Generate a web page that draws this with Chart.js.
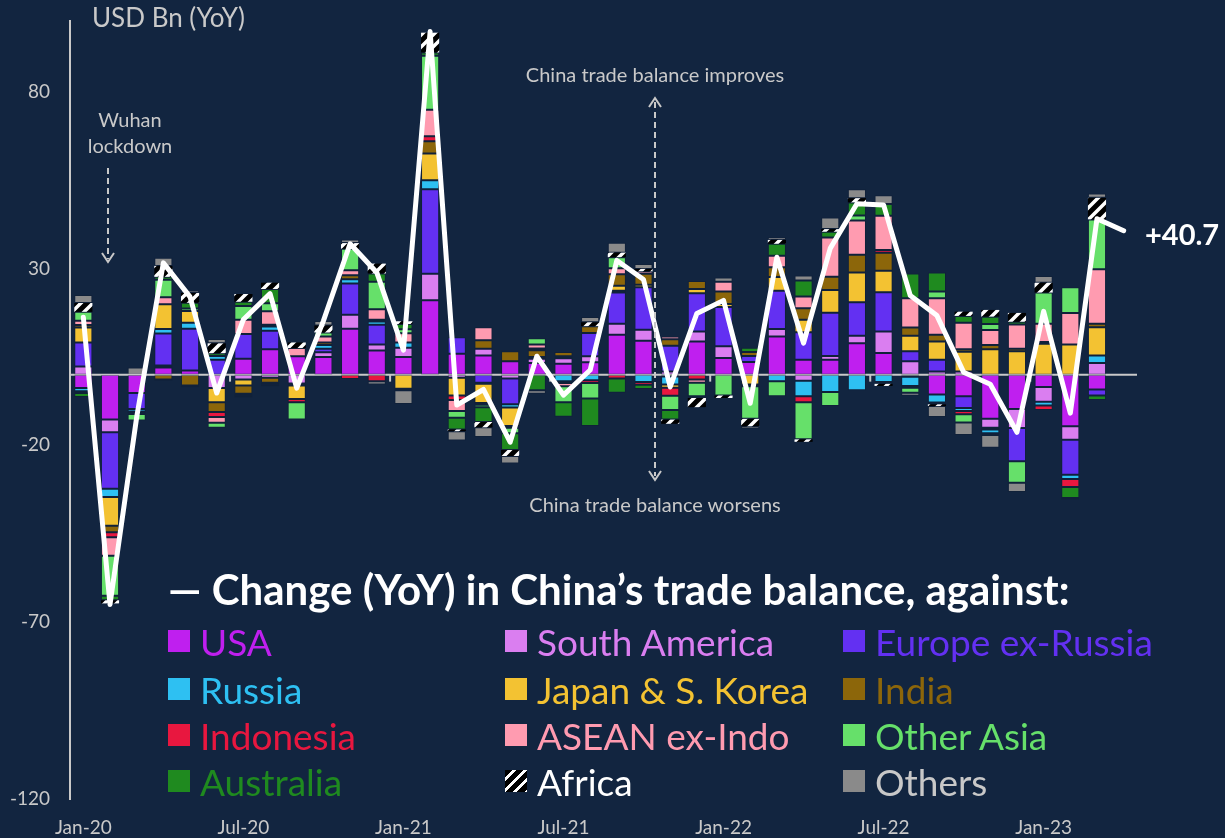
<!DOCTYPE html>
<html><head><meta charset="utf-8">
<script src="https://cdn.jsdelivr.net/npm/chart.js@4.4.1/dist/chart.umd.min.js"></script>
<style>
html,body{margin:0;padding:0;background:#122540;}
#wrap{position:relative;width:1225px;height:838px;overflow:hidden;background:#122540;font-family:Lato,"Open Sans",sans-serif;}
#c{position:absolute;left:0;top:0;}
.t{position:absolute;white-space:nowrap;color:#c9c9c9;line-height:1;}
.lg{position:absolute;display:flex;align-items:center;height:44px;white-space:nowrap;font-size:37px;}
.sq{width:22px;height:22px;margin-right:10px;flex:none;}
</style></head><body>
<div id="wrap">
<canvas id="c" width="1225" height="838"></canvas>
<div class="t" style="left:92px;top:4px;font-size:26px;">USD Bn (YoY)</div>
<div class="t" style="left:75px;top:106px;width:110px;text-align:center;font-size:20px;line-height:26px;">Wuhan<br>lockdown</div>
<div class="t" style="left:455px;top:64px;width:400px;text-align:center;font-size:20px;">China trade balance improves</div>
<div class="t" style="left:455px;top:494px;width:400px;text-align:center;font-size:20px;">China trade balance worsens</div>
<div class="t" style="left:1145px;top:219px;font-size:29px;font-weight:bold;color:#fff;">+40.7</div>
<div class="t" style="left:168px;top:568px;font-size:42px;font-weight:bold;color:#fff;">— Change (YoY) in China’s trade balance, against:</div>
<div id="legend"></div>
</div>
<script>
// ---------- data ----------
const months = ['Jan-20','Feb-20','Mar-20','Apr-20','May-20','Jun-20','Jul-20','Aug-20','Sep-20','Oct-20','Nov-20','Dec-20',
 'Jan-21','Feb-21','Mar-21','Apr-21','May-21','Jun-21','Jul-21','Aug-21','Sep-21','Oct-21','Nov-21','Dec-21',
 'Jan-22','Feb-22','Mar-22','Apr-22','May-22','Jun-22','Jul-22','Aug-22','Sep-22','Oct-22','Nov-22','Dec-22',
 'Jan-23','Feb-23','Mar-23','Apr-23'];
const yTicks = [-120,-70,-20,30,80];

const usa     = [-3.8,-12.7,-5.2,2.0,1.2,0,4.5,7.2,5.2,5.0,13.0,6.8, 5.0,21.0,5.9,5.4,3.8,3.3,3.1,3.5,11.3,9.6,-0.5,9.4, 4.7,3.6,10.8,4.2,4.2,8.9,6.1,-0.6,-5.6,-6.1,-12.5,-9.7, -3.5,-14.6,-4.2,null];
const southAm = [2.3,-3.6,0,0.6,0,-3.8,-1.4,-0.9,-2.5,1.3,3.9,1.7, 2.6,7.5,-0.9,1.9,-1.1,1.2,1.5,1.7,3.1,3.1,0.9,2.8, 3.3,0,2.1,-1.7,1.1,2.1,6.1,3.8,0.9,0.9,-2.5,-5.4, -4.2,-3.8,3.3,null];
const europe  = [6.8,-16.0,-4.5,9.0,11.8,4.2,7.0,5.2,-0.6,1.0,8.9,5.6, 0,23.9,4.7,-2.3,-7.3,0.5,0,6.6,8.8,12.0,7.3,10.8, 11.1,1.7,10.8,7.8,12.2,9.5,11.1,2.8,3.3,-3.3,-0.5,-9.4, 0,-9.9,-1.7,null];
const russia  = [-0.9,-2.3,-0.7,1.3,1.7,1.1,0,1.2,0,1.1,1.2,0.9, 1.5,2.6,0,-0.3,-0.9,0,-1.9,-1.6,0.5,-2.1,-2.3,0, 0,0,-1.9,-4.4,-4.9,-4.4,-2.1,-2.6,-2.3,-0.9,-1.1,0, -1.0,-1.2,2.1,null];
const japanKr = [4.2,-8.1,0,7.0,3.3,-4.0,-1.7,0.5,-3.8,0,0,0, -4.0,7.5,-5.0,-5.4,-5.2,0,0.6,0,1.4,0.7,-0.9,1.2, 0.9,-2.8,3.9,3.5,6.4,8.4,6.1,4.4,5.2,5.6,7.2,6.6, 8.7,8.5,8.0,null];
const india   = [0.75,-1.9,-0.4,-1.4,-3.1,-2.8,-2.3,-1.4,0,0.7,1.1,0.5, 0,3.5,0,2.4,2.8,1.9,1.2,1.9,3.3,3.1,1.8,2.3, 3.5,1.1,2.8,3.3,3.8,5.0,5.1,2.3,1.9,0.7,1.2,0.7, 0.5,0,1.0,null];
const indonesia=[-0.5,-1.4,-0.3,-0.3,-0.5,-1.4,-0.5,-0.5,-0.9,0,-1.2,-1.9, -0.4,1.4,-1.3,-0.5,0.2,0.5,-0.5,-0.75,-1.1,-0.75,-2.3,-1.4, 0,0,0,-1.7,0,0,0.75,-0.5,-0.5,-0.9,-0.5,0, -1.3,-2.3,0,null];
const asean   = [1.2,-5.2,0,2.0,0,-1.6,4.0,3.8,2.3,1.7,1.4,3.0, 2.6,7.5,-3.1,3.7,-0.5,1.1,-0.9,0,1.7,0.7,0.75,-0.9, 2.8,-0.5,3.2,3.3,11.1,9.7,9.7,8.3,10.3,7.5,4.2,6.9, 5.2,8.9,15.4,null];
const otherAs = [2.5,-11.3,-1.9,4.9,0.7,-1.4,3.9,2.3,-4.9,1.1,6.1,7.8, 1.1,15.3,-1.9,-0.7,-1.6,1.8,-4.5,-4.4,3.1,0,-4.0,-3.8, -5.9,-9.2,-4.2,-10.5,-4.0,1.4,-0.5,-1.4,1.9,-2.3,1.7,-6.1, 8.8,7.3,14.1,null];
const australia=[-1.1,-1.3,0,0.85,1.6,0.75,1.2,4.0,0,0,0,2.3, 1.5,0.9,-3.3,-4.2,-4.7,-4.4,-4.1,-7.8,-4.0,-1.2,-2.7,-0.5, 0,1.2,3.4,4.5,1.6,3.7,3.3,7.0,5.4,1.9,2.1,0.75, 0,-3.1,-1.3,null];
const africa  = [2.5,-0.9,0,3.1,2.8,2.8,2.2,1.8,1.6,2.0,1.6,2.8, 0.8,5.6,-0.5,-1.5,-1.7,0,0,1.1,1.3,0.7,-1.2,-2.6, -0.7,-2.1,1.1,-0.7,0.75,1.2,-0.6,0,-0.5,1.2,1.9,2.5, 2.8,0,6.1,null];
const others  = [2.3,0,2.0,2.3,0.7,1.2,-0.6,-0.5,0,1.3,1.0,-0.9, -3.9,0,-2.6,-2.7,-2.1,-1.0,0,1.5,2.8,1.4,0,0, 1.2,-0.7,0.75,1.4,3.3,2.5,2.5,-0.9,-3.1,-3.6,-3.6,-2.6, 1.9,-0.5,1.2,null];
const totalChange = [16.2,-65,-12,31.6,22,-5.2,15.6,22.9,-3.8,15.2,37,28.9, 6.9,97,-8.6,-4.2,-19.1,5.2,-5.8,1.3,32.3,26.9,-3.5,17.3, 21,-8.1,33.2,8.9,35.7,48.3,48,22.4,16.7,0.7,-2.7,-16.3, 17.9,-10.9,44.1,40.7];

const seriesNames = ['USA','South America','Europe ex-Russia','Russia','Japan & S. Korea','India','Indonesia','ASEAN ex-Indo','Other Asia','Australia','Africa','Others'];
// ---------- styles ----------
const colors = ['#BF1FEF','#DA7EF0','#6330F2','#2EC0F2','#F3C232','#8C660A','#E8173F','#FF9BB0','#66E06A','#1F8A1F','AFRICA','#8A8A8A'];
const labelColors = ['#BF1FEF','#DA7EF0','#6330F2','#2EC0F2','#F3C232','#8C660A','#E8173F','#FF9BB0','#66E06A','#1F8A1F','#FFFFFF','#C8C8C8'];
const seriesData = [usa,southAm,europe,russia,japanKr,india,indonesia,asean,otherAs,australia,africa,others];

function stripePattern(){
  const s=12, p=document.createElement('canvas'); p.width=p.height=s;
  const g=p.getContext('2d'); g.fillStyle='#000'; g.fillRect(0,0,s,s);
  g.strokeStyle='#fff'; g.lineWidth=3.5;
  g.beginPath();
  g.moveTo(-2,s+2); g.lineTo(s+2,-2);
  g.moveTo(-s/2-2,s/2+2); g.lineTo(s/2+2,-s/2-2);
  g.moveTo(s/2-2,s*1.5+2); g.lineTo(s*1.5+2,s/2-2);
  g.stroke();
  return g.createPattern(p,'repeat');
}
const ctx=document.getElementById('c').getContext('2d');
const africaPat = stripePattern();

const datasets = seriesData.map((d,i)=>({
  type:'bar', label:seriesNames[i], data:d, stack:'bars', order:1,
  backgroundColor: colors[i]==='AFRICA'?africaPat:colors[i],
  borderWidth: colors[i]==='AFRICA'?0:1, borderColor:'rgba(15,25,45,0.35)', borderSkipped:false,
  barPercentage:0.68, categoryPercentage:1
}));
datasets.push({type:'line', label:'Change (YoY)', data:totalChange, stack:'line', order:0,
  borderColor:'#ffffff', borderWidth:5, pointRadius:0, tension:0, borderJoinStyle:'round', borderCapStyle:'round', fill:false});

const GRAY='#C9C9C9';
const overlay = {
  id:'overlay',
  afterDatasetDraw(chart,args){
    if(args.index!==11) return;
    const {ctx,chartArea:a,scales:{x,y}}=chart;
    const y0=y.getPixelForValue(0);
    ctx.save(); ctx.strokeStyle=GRAY; ctx.lineWidth=2;
    ctx.beginPath(); ctx.moveTo(a.left,y0); ctx.lineTo(a.right,y0); ctx.stroke();
    for(let i=6;i<months.length;i+=6){
      const xp=(x.getPixelForValue(i-1)+x.getPixelForValue(i))/2;
      ctx.beginPath(); ctx.moveTo(xp,y0); ctx.lineTo(xp,y0+7); ctx.stroke();
    }
    ctx.restore();
  },
  afterDraw(chart){
    const c=chart.ctx;
    c.save(); c.strokeStyle=GRAY; c.lineWidth=2; c.setLineDash([6,4]);
    c.beginPath(); c.moveTo(108,168); c.lineTo(108,259); c.stroke();
    c.beginPath(); c.moveTo(655,102); c.lineTo(655,476); c.stroke();
    c.setLineDash([]);
    c.beginPath(); c.moveTo(102,253); c.lineTo(108,262); c.lineTo(114,253); c.stroke();
    c.beginPath(); c.moveTo(649,107); c.lineTo(655,98); c.lineTo(661,107); c.stroke();
    c.beginPath(); c.moveTo(649,471); c.lineTo(655,480); c.lineTo(661,471); c.stroke();
    c.restore();
  }
};

new Chart(ctx,{
  data:{labels:months, datasets},
  plugins:[overlay],
  options:{
    responsive:false, animation:false, devicePixelRatio:1,
    layout:{padding:{top:21,right:88,left:0,bottom:0}},
    plugins:{legend:{display:false},tooltip:{enabled:false}},
    scales:{
      x:{stacked:true, offset:true,
        grid:{display:false,drawTicks:false}, border:{display:false},
        afterFit(s){s.height=39;},
        ticks:{autoSkip:false,maxRotation:0,minRotation:0,padding:17,color:GRAY,font:{family:'Lato',size:19},
          callback(v,i){return i%6===0?months[i]:'';}}},
      y:{stacked:true, min:-120, max:100,
        afterBuildTicks(s){s.ticks=yTicks.map(v=>({value:v}));},
        afterFit(s){s.width=70;},
        grid:{display:true,drawOnChartArea:false,drawTicks:true,tickLength:20,color:'rgba(0,0,0,0)'},
        border:{display:true,color:GRAY,width:2},
        ticks:{padding:0,color:GRAY,font:{family:'Lato',size:19}}}
    }
  }
});

// ---------- legend (HTML text) ----------
const lg=document.getElementById('legend');
const colX=[168,505,843], rowY=[641,689,735,781];
seriesNames.forEach((n,i)=>{
  const d=document.createElement('div'); d.className='lg';
  d.style.left=colX[i%3]+'px'; d.style.top=(rowY[Math.floor(i/3)]-22)+'px'; d.style.color=labelColors[i];
  const sq=document.createElement('span'); sq.className='sq';
  sq.style.background = colors[i]==='AFRICA' ? 'repeating-linear-gradient(135deg,#000 0 5px,#fff 5px 8px)' : colors[i];
  d.appendChild(sq); d.appendChild(document.createTextNode(n)); lg.appendChild(d);
});
</script>
</body></html>
